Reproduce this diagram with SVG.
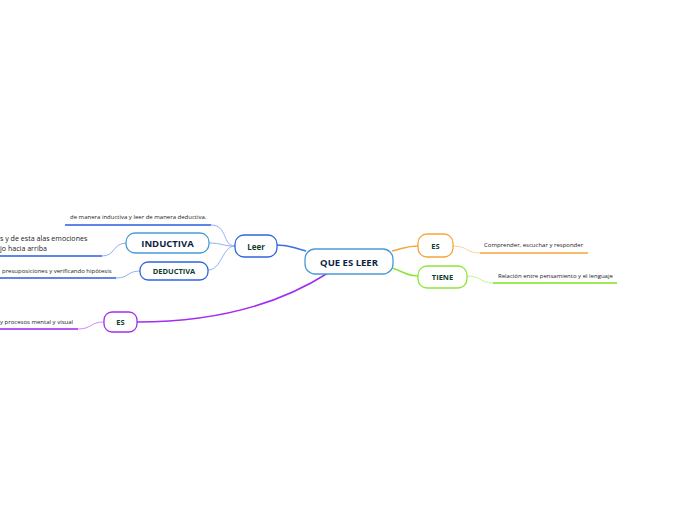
<svg xmlns="http://www.w3.org/2000/svg" width="696" height="520" viewBox="0 0 696 520">
<style>
text{font-family:"Open Sans","Noto Sans",sans-serif}
.node{fill:#fff;stroke-width:1.3}
.lbl{font-weight:bold;text-anchor:middle;dominant-baseline:central}
.small{font-size:6px;fill:#222}
.conn{fill:none}
</style>
<rect width="696" height="520" fill="#fff"/>
<g id="connectors">
<path class="conn" d="M277,245 C292,245 292,248 306,251" stroke="#3a6fe8" stroke-width="1.5"/>
<path class="conn" d="M392,251 C405,248 406,246 419,246" stroke="#f5a53a" stroke-width="1.5"/>
<path class="conn" d="M392,268 C405,272 406,276 419,276" stroke="#8ce63a" stroke-width="1.5"/>
<path class="conn" d="M328,273 C270,310 200,322 137,322" stroke="#a32ef0" stroke-width="1.5"/>
<path class="conn" d="M235,246 C222,246 228,225 211,225" stroke="#8fb0f0" stroke-width="1"/>
<path class="conn" d="M235,246 C222,246 222,243 208,243" stroke="#8fb0f0" stroke-width="1"/>
<path class="conn" d="M235,246 C222,246 222,270 208,270" stroke="#8fb0f0" stroke-width="1"/>
<path class="conn" d="M127,243 C112,243 116,256 102,256" stroke="#8fb0f0" stroke-width="1"/>
<path class="conn" d="M141,271 C126,271 130,278 116,278" stroke="#8fb0f0" stroke-width="1"/>
<path class="conn" d="M104,322 C90,322 92,329 78,329" stroke="#d08cf5" stroke-width="1"/>
<path class="conn" d="M453,246 C468,246 466,253 480,253" stroke="#fbd29a" stroke-width="1"/>
<path class="conn" d="M467,276 C482,276 480,283 493,283" stroke="#c3f29a" stroke-width="1"/>
<line x1="65" y1="225" x2="211" y2="225" stroke="#2a5de0" stroke-width="1.5"/>
<line x1="0" y1="256" x2="102" y2="256" stroke="#2a5de0" stroke-width="1.5"/>
<line x1="0" y1="278" x2="116" y2="278" stroke="#2a5de0" stroke-width="1.5"/>
<line x1="0" y1="329" x2="78" y2="329" stroke="#a020f0" stroke-width="1.5"/>
<line x1="480" y1="253" x2="588" y2="253" stroke="#f5a53a" stroke-width="1.5"/>
<line x1="493" y1="283" x2="617" y2="283" stroke="#80e020" stroke-width="1.5"/>
</g>
<g id="central">
<rect class="node" x="305" y="249" width="88" height="25" rx="10" stroke="#4a9ad8"/>
<text class="lbl" x="349" y="262" font-size="9.5" fill="#0d1f44">QUE ES LEER</text>
</g>
<g id="leer">
<rect class="node" x="235" y="235" width="42" height="22" rx="9" stroke="#2f66e0"/>
<text class="lbl" x="256" y="246" font-size="8" fill="#123d2e">Leer</text>
</g>
<g id="inductiva">
<rect class="node" x="126" y="233" width="83" height="20" rx="9" stroke="#4a9ad8"/>
<text class="lbl" x="167.5" y="243" font-size="9.5" fill="#0d1f44">INDUCTIVA</text>
</g>
<g id="deductiva">
<rect class="node" x="140" y="262" width="68" height="18" rx="8" stroke="#2f66e0"/>
<text class="lbl" x="174" y="271" font-size="7.5" fill="#123d2e">DEDUCTIVA</text>
</g>
<g id="es-left">
<rect class="node" x="104" y="312" width="33" height="20" rx="8" stroke="#a32ef0"/>
<text class="lbl" x="120.5" y="322" font-size="7.5" fill="#123d2e">ES</text>
</g>
<g id="es-right">
<rect class="node" x="418" y="234" width="35" height="23" rx="9" stroke="#f5a53a"/>
<text class="lbl" x="435.5" y="245.5" font-size="7.5" fill="#123d2e">ES</text>
</g>
<g id="tiene">
<rect class="node" x="418" y="266" width="49" height="22" rx="9" stroke="#8ce63a"/>
<text class="lbl" x="442.5" y="277" font-size="7.5" fill="#123d2e">TIENE</text>
</g>
<g id="texts">
<text class="small" x="70" y="219">de manera inductiva y leer de manera deductiva.</text>
<text x="0" y="241" font-size="7.1" fill="#222">s y de esta alas emociones</text>
<text x="0" y="251" font-size="7.1" fill="#222">jo hacia arriba</text>
<text class="small" x="2" y="273">presuposiciones y verificando hipótesis</text>
<text class="small" x="0" y="324">y procesos mental y visual</text>
<text class="small" x="484" y="247">Comprender, escuchar y responder</text>
<text class="small" x="498" y="278">Relación entre pensamiento y el lenguaje</text>
</g>
</svg>
